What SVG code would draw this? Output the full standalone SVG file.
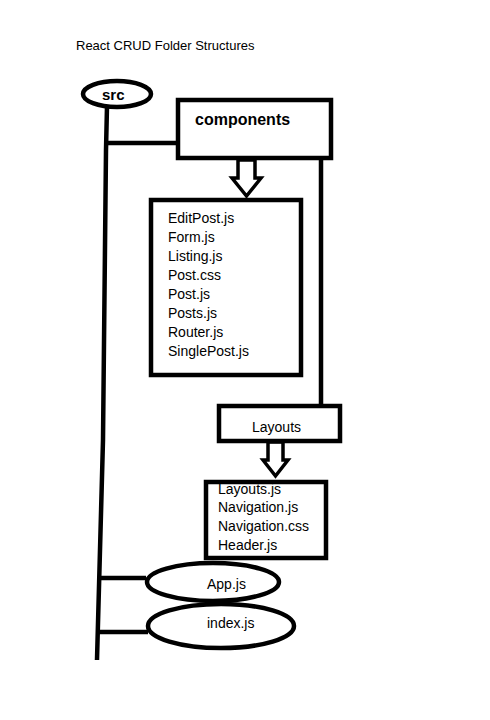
<svg xmlns="http://www.w3.org/2000/svg" width="490" height="720" viewBox="0 0 490 720">
<style>
.ln{fill:none;stroke:#000;stroke-width:4.5;stroke-linejoin:miter}
.bx{fill:#fff;stroke:#000;stroke-width:4.5}
.fr{fill:none;stroke:#000;stroke-width:4.5}
.t{font-family:"Liberation Sans",Arial,sans-serif;font-size:14px;fill:#000}
.b{font-family:"Liberation Sans",Arial,sans-serif;font-weight:bold;fill:#000}
.ar{fill:#fff;stroke:#000;stroke-width:3.5;stroke-linejoin:miter}
</style>
<rect width="490" height="720" fill="#fff"/>
<text class="t" x="76" y="50" style="font-size:13px">React CRUD Folder Structures</text>
<g id="connectors">
<polyline class="ln" points="107,106 106,150 103,440 97,660"/>
<line class="ln" x1="106" y1="143" x2="178" y2="143"/>
<line class="ln" x1="321" y1="158" x2="321" y2="406"/>
<line class="ln" x1="101" y1="578" x2="146" y2="578"/>
<line class="ln" x1="98" y1="632" x2="148" y2="632"/>
<polygon class="ar" points="238,160 255,160 255,178 261,178 246.5,196 232,178 238,178"/>
<polygon class="ar" points="268,442 283,442 283,460 288,460 275.5,476 263,460 268,460"/>
</g>
<g id="src">
<ellipse class="bx" cx="117" cy="94" rx="34" ry="13"/>
<text class="b" x="102" y="100" style="font-size:15px">src</text>
</g>
<g id="components">
<rect class="bx" x="178" y="100" width="153" height="58"/>
<text class="b" x="195" y="125" style="font-size:16px">components</text>
</g>
<g id="components-files">
<rect class="bx" x="151" y="200" width="150" height="175"/>
<text class="t" x="168" y="223">EditPost.js</text>
<text class="t" x="168" y="242">Form.js</text>
<text class="t" x="168" y="261">Listing.js</text>
<text class="t" x="168" y="280">Post.css</text>
<text class="t" x="168" y="299">Post.js</text>
<text class="t" x="168" y="318">Posts.js</text>
<text class="t" x="168" y="337">Router.js</text>
<text class="t" x="168" y="356">SinglePost.js</text>
</g>
<g id="layouts">
<rect class="bx" x="219" y="406" width="121" height="35"/>
<text class="t" x="252" y="432">Layouts</text>
</g>
<g id="layouts-files">
<rect x="206" y="482" width="120" height="76" fill="#fff"/>
<text class="t" x="218" y="494">Layouts.js</text>
<text class="t" x="218" y="512">Navigation.js</text>
<text class="t" x="218" y="531">Navigation.css</text>
<text class="t" x="218" y="550">Header.js</text>
<rect class="fr" x="206" y="482" width="120" height="76"/>
</g>
<g id="appjs">
<ellipse class="bx" cx="213" cy="582" rx="66" ry="19"/>
<text class="t" x="207" y="589">App.js</text>
</g>
<g id="indexjs">
<ellipse class="bx" cx="221" cy="626" rx="73" ry="22"/>
<text class="t" x="207" y="628">index.js</text>
</g>
</svg>
